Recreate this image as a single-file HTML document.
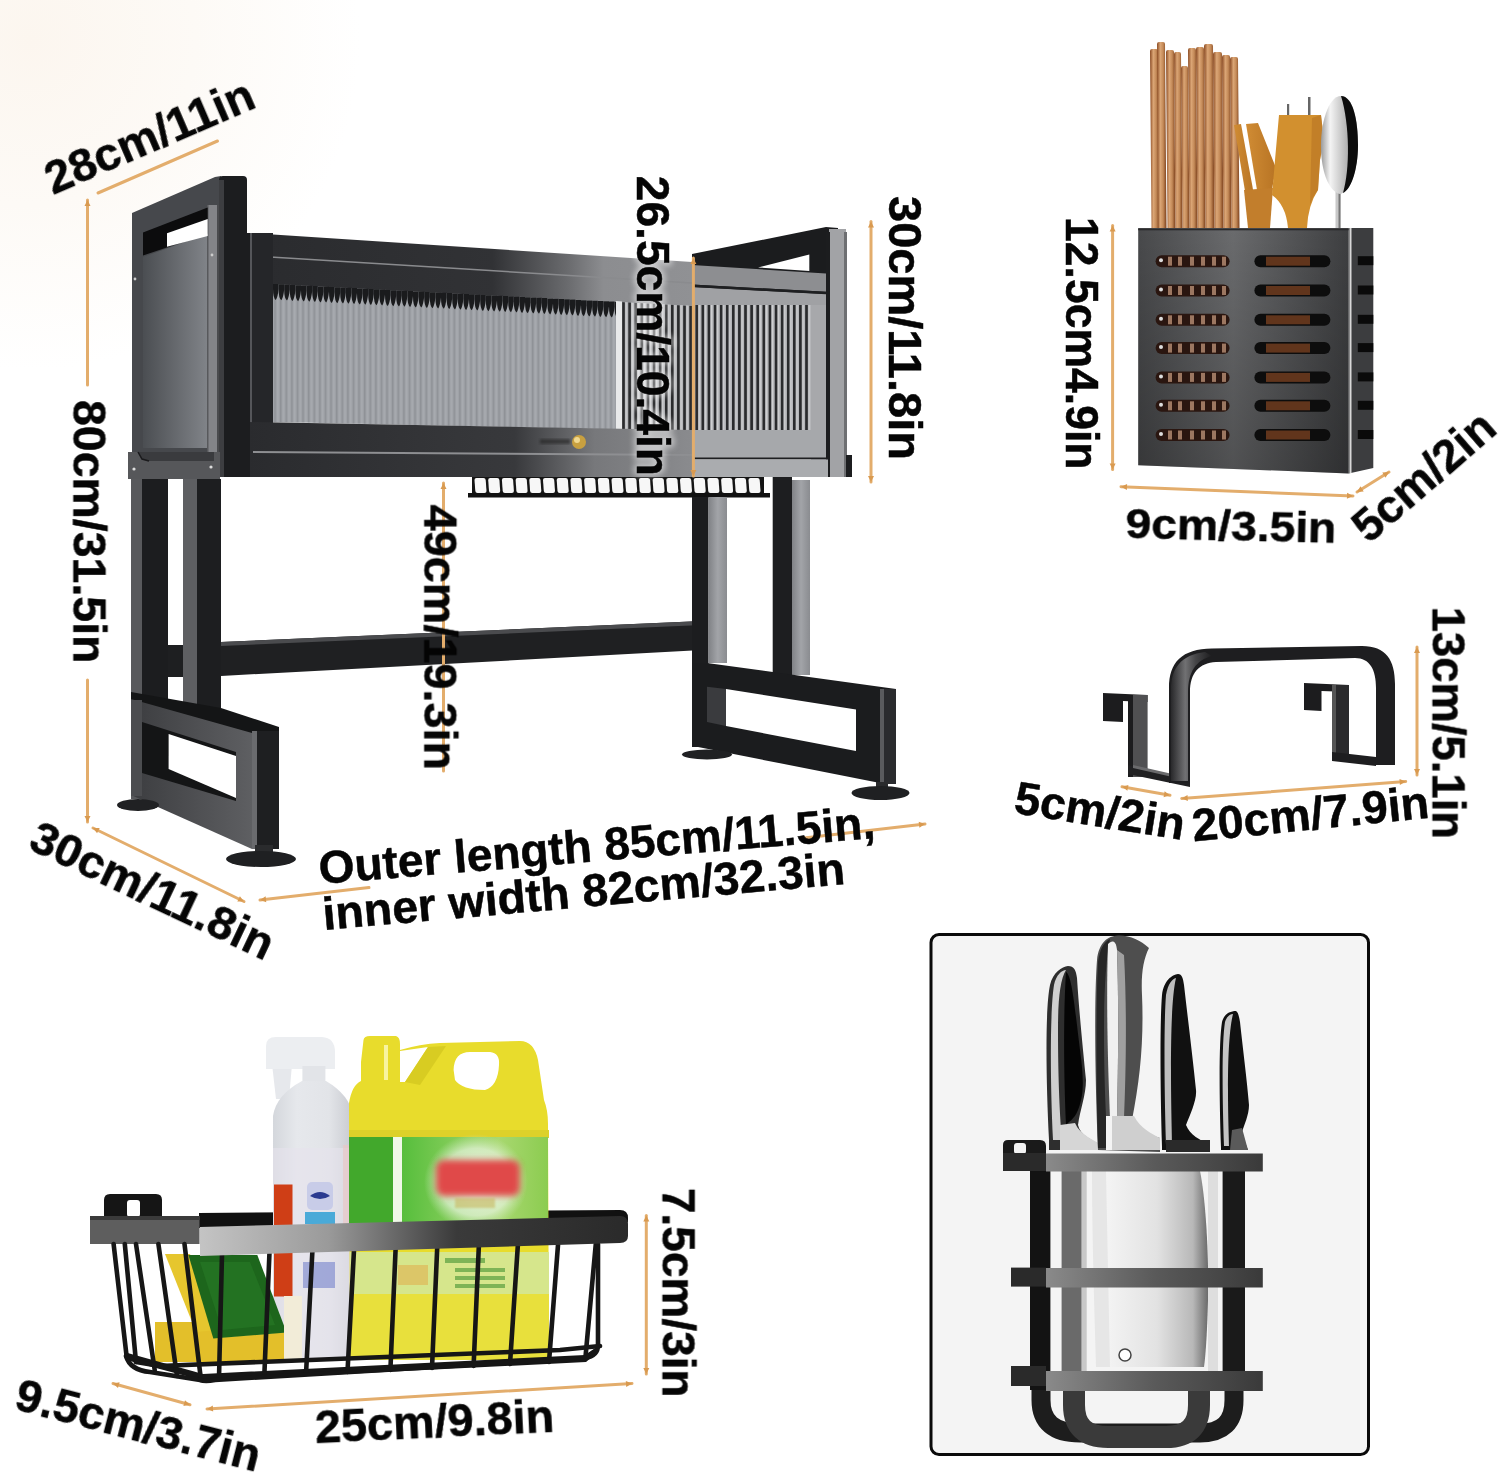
<!DOCTYPE html>
<html><head><meta charset="utf-8"><title>Rack</title>
<style>
html,body{margin:0;padding:0;background:#fff;overflow:hidden}
svg{display:block}
text{font-family:"Liberation Sans",sans-serif;font-weight:bold;fill:#050505;stroke:#050505;stroke-width:0.5}
.ol{stroke:#e3ad6c;stroke-width:3;fill:none;stroke-linecap:round}
.oh{fill:#d99a50}
</style></head>
<body>
<svg width="1500" height="1476" viewBox="0 0 1500 1476">
<defs>
<radialGradient id="bg" cx="30" cy="40" r="330" gradientUnits="userSpaceOnUse">
  <stop offset="0" stop-color="#fcf6ef"/>
  <stop offset="0.5" stop-color="#fdfaf6"/>
  <stop offset="1" stop-color="#ffffff"/>
</radialGradient>
<pattern id="ribs" x="0" y="0" width="5.6" height="10" patternUnits="userSpaceOnUse">
  <rect width="5.6" height="10" fill="#9da0a5"/>
  <rect x="0" width="1.4" height="10" fill="#8f9297"/>
  <rect x="2.4" width="2" height="10" fill="#a7aaaf"/>
</pattern>
<pattern id="teeth" x="0" y="0" width="5.6" height="20" patternUnits="userSpaceOnUse">
  <path d="M0,0 h5.6 v6 q-1.5,9 -3.5,10 q-2,-3 -2.1,-10 z" fill="#1a1b1d"/>
</pattern>
<pattern id="stripes" x="0" y="0" width="6.1" height="10" patternUnits="userSpaceOnUse">
  <rect width="6.1" height="10" fill="#b2b3b6"/>
  <rect x="0" width="2.6" height="10" fill="#2a2b2d"/>
  <rect x="3.4" width="1.2" height="10" fill="#d0d1d3"/>
</pattern>
<linearGradient id="panelIn" x1="0" x2="1" y1="0" y2="0">
  <stop offset="0" stop-color="#4b4e52"/><stop offset="1" stop-color="#808388"/>
</linearGradient>
<linearGradient id="botRail" x1="249" x2="692" y1="0" y2="0" gradientUnits="userSpaceOnUse">
  <stop offset="0" stop-color="#2a2b2e"/><stop offset="0.6" stop-color="#38393c"/><stop offset="0.78" stop-color="#77787b"/><stop offset="1" stop-color="#8a8b8e"/>
</linearGradient>
<linearGradient id="topRail" x1="249" x2="692" y1="0" y2="0" gradientUnits="userSpaceOnUse">
  <stop offset="0" stop-color="#2a2b2e"/><stop offset="0.55" stop-color="#313235"/><stop offset="0.72" stop-color="#6a6b6e"/><stop offset="0.8" stop-color="#8c8d90"/><stop offset="1" stop-color="#909194"/>
</linearGradient>
<linearGradient id="baseFace" x1="0" x2="1" y1="0" y2="0">
  <stop offset="0" stop-color="#3c3d40"/><stop offset="1" stop-color="#5e5f62"/>
</linearGradient>
<linearGradient id="legG" x1="0" x2="1" y1="0" y2="0">
  <stop offset="0" stop-color="#808286"/><stop offset="0.5" stop-color="#a2a4a8"/><stop offset="1" stop-color="#8a8c90"/>
</linearGradient>
<linearGradient id="boxFront" x1="0" x2="1" y1="0" y2="0">
  <stop offset="0" stop-color="#48494b"/><stop offset="0.45" stop-color="#6a6b6d"/><stop offset="1" stop-color="#3e3f41"/>
</linearGradient>
<linearGradient id="boxFrontV" x1="0" x2="0" y1="0" y2="1">
  <stop offset="0" stop-color="#000" stop-opacity="0"/><stop offset="1" stop-color="#000" stop-opacity="0.25"/>
</linearGradient>
<linearGradient id="chop" x1="0" x2="1" y1="0" y2="0">
  <stop offset="0" stop-color="#a0603a"/><stop offset="0.5" stop-color="#dca676"/><stop offset="1" stop-color="#9c5c36"/>
</linearGradient>
<linearGradient id="rimG" x1="200" x2="628" y1="0" y2="0" gradientUnits="userSpaceOnUse">
  <stop offset="0" stop-color="#c4c4c4"/><stop offset="0.3" stop-color="#9a9a9a"/><stop offset="0.6" stop-color="#3a3a3a"/><stop offset="1" stop-color="#2a2a2a"/>
</linearGradient>
<linearGradient id="cleaver" x1="0" x2="1" y1="0" y2="0">
  <stop offset="0" stop-color="#f4f4f4"/><stop offset="0.5" stop-color="#e2e2e2"/><stop offset="0.85" stop-color="#b8b8b8"/><stop offset="1" stop-color="#6a6a6a"/>
</linearGradient>
<linearGradient id="barG" x1="0" x2="1" y1="0" y2="0">
  <stop offset="0" stop-color="#8a8a8a"/><stop offset="0.5" stop-color="#5a5a5a"/><stop offset="1" stop-color="#3a3a3a"/>
</linearGradient>
<linearGradient id="jugG" x1="0" x2="1" y1="0" y2="0">
  <stop offset="0" stop-color="#d8cc20"/><stop offset="0.3" stop-color="#f2e83a"/><stop offset="1" stop-color="#e0d428"/>
</linearGradient>
<linearGradient id="labelG" x1="0" x2="1" y1="0" y2="0">
  <stop offset="0" stop-color="#3aa82a"/><stop offset="0.3" stop-color="#5cc040"/><stop offset="0.75" stop-color="#a8d870"/><stop offset="1" stop-color="#8ccc50"/>
</linearGradient>
<filter id="blur3" x="-20%" y="-20%" width="140%" height="140%"><feGaussianBlur stdDeviation="3"/></filter>
<filter id="blur1" x="-20%" y="-20%" width="140%" height="140%"><feGaussianBlur stdDeviation="1"/></filter>
</defs>

<rect width="1500" height="1476" fill="url(#bg)"/>
<g id="rack">
<!-- right end dark top frame -->
<polygon points="692,254 826,227 838,228 838,300 692,300" fill="#1b1c1e"/>
<polygon points="758,267.4 809.3,254.6 809.3,271" fill="#fff"/>
<!-- right post -->
<rect x="829" y="229" width="17" height="248" fill="#a2a3a6"/>
<rect x="826" y="232" width="4" height="245" fill="#1c1d1f"/>
<rect x="844" y="232" width="3" height="245" fill="#6e6f72"/>
<!-- right section rails -->
<polygon points="692,265 826,273.5 826,291.8 692,284.5" fill="#8d8e91"/>
<polygon points="692,287 826,294 826,312.6 692,305" fill="#a0a1a4"/>
<line x1="692" y1="285.8" x2="826" y2="293" stroke="#1e1f21" stroke-width="2.5"/>
<!-- right glass -->
<rect x="692" y="305" width="119" height="126" fill="url(#stripes)"/>
<rect x="811" y="305" width="15" height="156" fill="#a7a8ab"/>
<rect x="692" y="430" width="134" height="28" fill="#a6a8ab"/>
<line x1="692" y1="458.5" x2="828" y2="458.5" stroke="#1e1f21" stroke-width="2"/>
<rect x="692" y="459.5" width="136" height="17.5" fill="#aaacaf"/>
<rect x="846" y="455" width="6" height="22" fill="#1c1d1f"/>
<!-- left section top rail -->
<polygon points="249,233 692,262 692,306 249,284" fill="url(#topRail)"/>
<line x1="253" y1="256" x2="692" y2="283" stroke="#8a8b8e" stroke-width="1.6"/>
<!-- left glass -->
<polygon points="273,284 692,306 692,431 273,422" fill="url(#ribs)"/>
<g fill="#1a1b1d"><path d="M273.0,284.0 h5.6 v5 q-0.8,8 -2.8,11 q-2.8,-2 -2.8,-11 z"/><path d="M278.6,284.3 h5.6 v5 q-0.8,8 -2.8,11 q-2.8,-2 -2.8,-11 z"/><path d="M284.2,284.6 h5.6 v5 q-0.8,8 -2.8,11 q-2.8,-2 -2.8,-11 z"/><path d="M289.8,284.9 h5.6 v5 q-0.8,8 -2.8,11 q-2.8,-2 -2.8,-11 z"/><path d="M295.4,285.2 h5.6 v5 q-0.8,8 -2.8,11 q-2.8,-2 -2.8,-11 z"/><path d="M301.0,285.5 h5.6 v5 q-0.8,8 -2.8,11 q-2.8,-2 -2.8,-11 z"/><path d="M306.6,285.8 h5.6 v5 q-0.8,8 -2.8,11 q-2.8,-2 -2.8,-11 z"/><path d="M312.2,286.1 h5.6 v5 q-0.8,8 -2.8,11 q-2.8,-2 -2.8,-11 z"/><path d="M317.8,286.4 h5.6 v5 q-0.8,8 -2.8,11 q-2.8,-2 -2.8,-11 z"/><path d="M323.4,286.6 h5.6 v5 q-0.8,8 -2.8,11 q-2.8,-2 -2.8,-11 z"/><path d="M329.0,286.9 h5.6 v5 q-0.8,8 -2.8,11 q-2.8,-2 -2.8,-11 z"/><path d="M334.6,287.2 h5.6 v5 q-0.8,8 -2.8,11 q-2.8,-2 -2.8,-11 z"/><path d="M340.2,287.5 h5.6 v5 q-0.8,8 -2.8,11 q-2.8,-2 -2.8,-11 z"/><path d="M345.8,287.8 h5.6 v5 q-0.8,8 -2.8,11 q-2.8,-2 -2.8,-11 z"/><path d="M351.4,288.1 h5.6 v5 q-0.8,8 -2.8,11 q-2.8,-2 -2.8,-11 z"/><path d="M357.0,288.4 h5.6 v5 q-0.8,8 -2.8,11 q-2.8,-2 -2.8,-11 z"/><path d="M362.6,288.7 h5.6 v5 q-0.8,8 -2.8,11 q-2.8,-2 -2.8,-11 z"/><path d="M368.2,289.0 h5.6 v5 q-0.8,8 -2.8,11 q-2.8,-2 -2.8,-11 z"/><path d="M373.8,289.3 h5.6 v5 q-0.8,8 -2.8,11 q-2.8,-2 -2.8,-11 z"/><path d="M379.4,289.6 h5.6 v5 q-0.8,8 -2.8,11 q-2.8,-2 -2.8,-11 z"/><path d="M385.0,289.9 h5.6 v5 q-0.8,8 -2.8,11 q-2.8,-2 -2.8,-11 z"/><path d="M390.6,290.2 h5.6 v5 q-0.8,8 -2.8,11 q-2.8,-2 -2.8,-11 z"/><path d="M396.2,290.5 h5.6 v5 q-0.8,8 -2.8,11 q-2.8,-2 -2.8,-11 z"/><path d="M401.8,290.8 h5.6 v5 q-0.8,8 -2.8,11 q-2.8,-2 -2.8,-11 z"/><path d="M407.4,291.1 h5.6 v5 q-0.8,8 -2.8,11 q-2.8,-2 -2.8,-11 z"/><path d="M413.0,291.4 h5.6 v5 q-0.8,8 -2.8,11 q-2.8,-2 -2.8,-11 z"/><path d="M418.6,291.6 h5.6 v5 q-0.8,8 -2.8,11 q-2.8,-2 -2.8,-11 z"/><path d="M424.2,291.9 h5.6 v5 q-0.8,8 -2.8,11 q-2.8,-2 -2.8,-11 z"/><path d="M429.8,292.2 h5.6 v5 q-0.8,8 -2.8,11 q-2.8,-2 -2.8,-11 z"/><path d="M435.4,292.5 h5.6 v5 q-0.8,8 -2.8,11 q-2.8,-2 -2.8,-11 z"/><path d="M441.0,292.8 h5.6 v5 q-0.8,8 -2.8,11 q-2.8,-2 -2.8,-11 z"/><path d="M446.6,293.1 h5.6 v5 q-0.8,8 -2.8,11 q-2.8,-2 -2.8,-11 z"/><path d="M452.2,293.4 h5.6 v5 q-0.8,8 -2.8,11 q-2.8,-2 -2.8,-11 z"/><path d="M457.8,293.7 h5.6 v5 q-0.8,8 -2.8,11 q-2.8,-2 -2.8,-11 z"/><path d="M463.4,294.0 h5.6 v5 q-0.8,8 -2.8,11 q-2.8,-2 -2.8,-11 z"/><path d="M469.0,294.3 h5.6 v5 q-0.8,8 -2.8,11 q-2.8,-2 -2.8,-11 z"/><path d="M474.6,294.6 h5.6 v5 q-0.8,8 -2.8,11 q-2.8,-2 -2.8,-11 z"/><path d="M480.2,294.9 h5.6 v5 q-0.8,8 -2.8,11 q-2.8,-2 -2.8,-11 z"/><path d="M485.8,295.2 h5.6 v5 q-0.8,8 -2.8,11 q-2.8,-2 -2.8,-11 z"/><path d="M491.4,295.5 h5.6 v5 q-0.8,8 -2.8,11 q-2.8,-2 -2.8,-11 z"/><path d="M497.0,295.8 h5.6 v5 q-0.8,8 -2.8,11 q-2.8,-2 -2.8,-11 z"/><path d="M502.6,296.1 h5.6 v5 q-0.8,8 -2.8,11 q-2.8,-2 -2.8,-11 z"/><path d="M508.2,296.3 h5.6 v5 q-0.8,8 -2.8,11 q-2.8,-2 -2.8,-11 z"/><path d="M513.8,296.6 h5.6 v5 q-0.8,8 -2.8,11 q-2.8,-2 -2.8,-11 z"/><path d="M519.4,296.9 h5.6 v5 q-0.8,8 -2.8,11 q-2.8,-2 -2.8,-11 z"/><path d="M525.0,297.2 h5.6 v5 q-0.8,8 -2.8,11 q-2.8,-2 -2.8,-11 z"/><path d="M530.6,297.5 h5.6 v5 q-0.8,8 -2.8,11 q-2.8,-2 -2.8,-11 z"/><path d="M536.2,297.8 h5.6 v5 q-0.8,8 -2.8,11 q-2.8,-2 -2.8,-11 z"/><path d="M541.8,298.1 h5.6 v5 q-0.8,8 -2.8,11 q-2.8,-2 -2.8,-11 z"/><path d="M547.4,298.4 h5.6 v5 q-0.8,8 -2.8,11 q-2.8,-2 -2.8,-11 z"/><path d="M553.0,298.7 h5.6 v5 q-0.8,8 -2.8,11 q-2.8,-2 -2.8,-11 z"/><path d="M558.6,299.0 h5.6 v5 q-0.8,8 -2.8,11 q-2.8,-2 -2.8,-11 z"/><path d="M564.2,299.3 h5.6 v5 q-0.8,8 -2.8,11 q-2.8,-2 -2.8,-11 z"/><path d="M569.8,299.6 h5.6 v5 q-0.8,8 -2.8,11 q-2.8,-2 -2.8,-11 z"/><path d="M575.4,299.9 h5.6 v5 q-0.8,8 -2.8,11 q-2.8,-2 -2.8,-11 z"/><path d="M581.0,300.2 h5.6 v5 q-0.8,8 -2.8,11 q-2.8,-2 -2.8,-11 z"/><path d="M586.6,300.5 h5.6 v5 q-0.8,8 -2.8,11 q-2.8,-2 -2.8,-11 z"/><path d="M592.2,300.8 h5.6 v5 q-0.8,8 -2.8,11 q-2.8,-2 -2.8,-11 z"/><path d="M597.8,301.1 h5.6 v5 q-0.8,8 -2.8,11 q-2.8,-2 -2.8,-11 z"/><path d="M603.4,301.3 h5.6 v5 q-0.8,8 -2.8,11 q-2.8,-2 -2.8,-11 z"/><path d="M609.0,301.6 h5.6 v5 q-0.8,8 -2.8,11 q-2.8,-2 -2.8,-11 z"/><path d="M614.6,301.9 h5.6 v5 q-0.8,8 -2.8,11 q-2.8,-2 -2.8,-11 z"/></g>
<polygon points="620,302 692,306 692,431 620,429" fill="url(#stripes)"/>
<polygon points="616,301 622,301.5 622,429 616,429" fill="#e8e9ea"/>
<!-- left vertical frame -->
<rect x="249" y="233" width="24" height="244" fill="#252629"/>
<rect x="249" y="233" width="3" height="244" fill="#55565a"/>
<!-- bottom rail -->
<polygon points="249,422 692,430 692,477 249,477" fill="url(#botRail)"/>
<line x1="253" y1="452" x2="692" y2="455" stroke="#8e8f92" stroke-width="2"/>
<!-- knob -->
<rect x="540" y="439" width="30" height="5" fill="#222" opacity="0.6" filter="url(#blur1)"/>
<circle cx="579" cy="442" r="7" fill="#c8a040"/>
<circle cx="577" cy="440" r="3" fill="#f0d890"/>

<!-- left end panel -->
<polygon points="132,213 215,177 221,176 221,452 132,452" fill="#46484c"/>
<polygon points="143,257 207,234 207,448 143,448" fill="url(#panelIn)"/>
<rect x="207" y="205" width="13" height="247" fill="#838488"/><rect x="207" y="205" width="1.5" height="247" fill="#58595c"/><rect x="217" y="205" width="3" height="247" fill="#4a4b4e"/>
<polygon points="143,232.5 207.7,207.4 207.7,233.8 143,255.5" fill="#0c0c0d"/>
<polygon points="167,233.2 207.7,219 207.7,235.9 167,246.7" fill="#fff"/>
<!-- front post -->
<path d="M219,180 q0,-4 4,-4 h20 q4,0 4,4 v53 h3 v244 h-31 z" fill="#1c1d1f"/>
<rect x="219" y="180" width="5" height="297" fill="#3d3e41"/>
<!-- bracket -->
<rect x="128" y="452" width="92" height="27" fill="#56575a"/><path d="M138,452 L142,459 L149,461 L214,461 L214,452 Z" fill="#3a3b3e"/><path d="M138,452 L142,459 L149,461" fill="none" stroke="#1a1a1c" stroke-width="1.5"/>
<circle cx="134" cy="469" r="1.6" fill="#ddd"/>
<circle cx="211" cy="467" r="1.6" fill="#ddd"/>
<circle cx="135" cy="279" r="1.4" fill="#ccc"/>
<circle cx="212" cy="255" r="1.4" fill="#ccc"/>

<!-- tray under shelf -->
<g>
<rect x="472" y="477" width="292" height="17" fill="#141414"/>
<g fill="#f7f7f7"><path d="M476.5,478 h7 q2,0 2.2,2 l0.8,11 q0,2 -2,2 h-7 q-2,0 -2.2,-2 l-0.8,-11 q0,-2 2,-2 z"/><path d="M490.2,478 h7 q2,0 2.2,2 l0.8,11 q0,2 -2,2 h-7 q-2,0 -2.2,-2 l-0.8,-11 q0,-2 2,-2 z"/><path d="M503.9,478 h7 q2,0 2.2,2 l0.8,11 q0,2 -2,2 h-7 q-2,0 -2.2,-2 l-0.8,-11 q0,-2 2,-2 z"/><path d="M517.6,478 h7 q2,0 2.2,2 l0.8,11 q0,2 -2,2 h-7 q-2,0 -2.2,-2 l-0.8,-11 q0,-2 2,-2 z"/><path d="M531.3,478 h7 q2,0 2.2,2 l0.8,11 q0,2 -2,2 h-7 q-2,0 -2.2,-2 l-0.8,-11 q0,-2 2,-2 z"/><path d="M545.0,478 h7 q2,0 2.2,2 l0.8,11 q0,2 -2,2 h-7 q-2,0 -2.2,-2 l-0.8,-11 q0,-2 2,-2 z"/><path d="M558.7,478 h7 q2,0 2.2,2 l0.8,11 q0,2 -2,2 h-7 q-2,0 -2.2,-2 l-0.8,-11 q0,-2 2,-2 z"/><path d="M572.4,478 h7 q2,0 2.2,2 l0.8,11 q0,2 -2,2 h-7 q-2,0 -2.2,-2 l-0.8,-11 q0,-2 2,-2 z"/><path d="M586.1,478 h7 q2,0 2.2,2 l0.8,11 q0,2 -2,2 h-7 q-2,0 -2.2,-2 l-0.8,-11 q0,-2 2,-2 z"/><path d="M599.8,478 h7 q2,0 2.2,2 l0.8,11 q0,2 -2,2 h-7 q-2,0 -2.2,-2 l-0.8,-11 q0,-2 2,-2 z"/><path d="M613.5,478 h7 q2,0 2.2,2 l0.8,11 q0,2 -2,2 h-7 q-2,0 -2.2,-2 l-0.8,-11 q0,-2 2,-2 z"/><path d="M627.2,478 h7 q2,0 2.2,2 l0.8,11 q0,2 -2,2 h-7 q-2,0 -2.2,-2 l-0.8,-11 q0,-2 2,-2 z"/><path d="M640.9,478 h7 q2,0 2.2,2 l0.8,11 q0,2 -2,2 h-7 q-2,0 -2.2,-2 l-0.8,-11 q0,-2 2,-2 z"/><path d="M654.6,478 h7 q2,0 2.2,2 l0.8,11 q0,2 -2,2 h-7 q-2,0 -2.2,-2 l-0.8,-11 q0,-2 2,-2 z"/><path d="M668.3,478 h7 q2,0 2.2,2 l0.8,11 q0,2 -2,2 h-7 q-2,0 -2.2,-2 l-0.8,-11 q0,-2 2,-2 z"/><path d="M682.0,478 h7 q2,0 2.2,2 l0.8,11 q0,2 -2,2 h-7 q-2,0 -2.2,-2 l-0.8,-11 q0,-2 2,-2 z"/><path d="M695.7,478 h7 q2,0 2.2,2 l0.8,11 q0,2 -2,2 h-7 q-2,0 -2.2,-2 l-0.8,-11 q0,-2 2,-2 z"/><path d="M709.4,478 h7 q2,0 2.2,2 l0.8,11 q0,2 -2,2 h-7 q-2,0 -2.2,-2 l-0.8,-11 q0,-2 2,-2 z"/><path d="M723.1,478 h7 q2,0 2.2,2 l0.8,11 q0,2 -2,2 h-7 q-2,0 -2.2,-2 l-0.8,-11 q0,-2 2,-2 z"/><path d="M736.8,478 h7 q2,0 2.2,2 l0.8,11 q0,2 -2,2 h-7 q-2,0 -2.2,-2 l-0.8,-11 q0,-2 2,-2 z"/><path d="M750.5,478 h7 q2,0 2.2,2 l0.8,11 q0,2 -2,2 h-7 q-2,0 -2.2,-2 l-0.8,-11 q0,-2 2,-2 z"/></g>
<rect x="468" y="493" width="302" height="4.5" fill="#111"/>
</g>

<!-- left legs -->
<rect x="168" y="479" width="15" height="230" fill="#fff"/>
<rect x="168" y="645" width="15" height="32" fill="#1e1f21"/>
<rect x="131" y="479" width="37" height="320" fill="#1c1d1f"/>
<rect x="131" y="479" width="11" height="320" fill="#58595c"/>
<rect x="183" y="479" width="38" height="236" fill="#1d1e20"/>
<rect x="183" y="479" width="14" height="232" fill="#5e5f62"/>
<!-- crossbar -->
<polygon points="221,642 702,621 702,650 221,676" fill="#1f2022"/>
<polygon points="221,642 702,621 702,625 221,646" fill="#4a4b4e"/>
<!-- left base -->
<polygon points="131,692 221,708 279,727 279,741 131,706" fill="#141516"/>
<polygon points="131,699 252,733 252,849 131,795" fill="url(#baseFace)"/>
<polygon points="142,722 236,752 236,801 142,773" fill="#141516"/>
<polygon points="168.6,734 236,756 236,798 168.6,769" fill="#fff"/>
<rect x="131" y="700" width="11" height="96" fill="#4c4d50"/>
<rect x="252" y="731" width="27" height="118" fill="#1e1f21"/>
<rect x="252" y="731" width="5" height="118" fill="#6a6b6e"/>
<!-- feet left -->
<ellipse cx="138" cy="805" rx="21" ry="6" fill="#202123"/>
<rect x="255" y="845" width="18" height="10" fill="#2a2b2d"/>
<ellipse cx="261" cy="859" rx="35" ry="8" fill="#1f2022"/>

<!-- right legs -->
<rect x="692" y="497" width="16.5" height="250" fill="#1c1d1f"/>
<rect x="708.5" y="497" width="18.5" height="166" fill="url(#legG)"/>
<rect x="772.7" y="477" width="19.3" height="198" fill="#1d1e20"/>
<rect x="792" y="480" width="18" height="195" fill="url(#legG)"/>
<!-- right base -->
<polygon points="707,663 896,689 896,784 880,783 693,746 693,663" fill="#1b1c1e"/>
<polygon points="707,686.7 726,689 726,726 707,722" fill="#3a3b3e"/>
<polygon points="726,689 856,709.6 856,751 726,726" fill="#fff"/>
<rect x="880" y="689" width="16" height="95" fill="#2a2b2e"/>
<rect x="880" y="689" width="4" height="95" fill="#5a5b5e"/>
<!-- feet right -->
<ellipse cx="707" cy="754.5" rx="25" ry="5" fill="#202123"/>
<rect x="876" y="782" width="12" height="8" fill="#2a2b2d"/>
<ellipse cx="880.5" cy="793" rx="29" ry="7" fill="#1f2022"/>
</g>

<g id="utensil">
<defs>
<linearGradient id="chop2" x1="0" x2="1" y1="0" y2="0">
  <stop offset="0" stop-color="#8a4a22"/><stop offset="0.35" stop-color="#dba676"/><stop offset="0.65" stop-color="#c48a58"/><stop offset="1" stop-color="#7a3e1a"/>
</linearGradient>
<linearGradient id="spoonG" x1="0" x2="1" y1="0" y2="0">
  <stop offset="0" stop-color="#9a9a9a"/><stop offset="0.25" stop-color="#f4f4f4"/><stop offset="0.5" stop-color="#d0d0d0"/><stop offset="1" stop-color="#888"/>
</linearGradient>
<linearGradient id="forkG" x1="0" x2="1" y1="0" y2="0">
  <stop offset="0" stop-color="#d08c34"/><stop offset="1" stop-color="#b87424"/>
</linearGradient>
</defs>
<path d="M1150,51 q0,-2 2,-2 h4 q2,0 2,2 L1159.5,228 H1151.5 Z" fill="url(#chop2)"/>
<path d="M1157,44 q0,-2 2,-2 h4 q2,0 2,2 L1166.5,228 H1158.5 Z" fill="url(#chop2)"/>
<path d="M1166,52 q0,-2 2,-2 h4 q2,0 2,2 L1175.5,228 H1167.5 Z" fill="url(#chop2)"/>
<path d="M1174,54 q0,-2 2,-2 h3 q2,0 2,2 L1182.5,228 H1175.5 Z" fill="url(#chop2)"/>
<path d="M1181,68 q0,-2 2,-2 h3 q2,0 2,2 L1189.5,228 H1182.5 Z" fill="url(#chop2)"/>
<path d="M1188,50 q0,-2 2,-2 h4 q2,0 2,2 L1197.5,228 H1189.5 Z" fill="url(#chop2)"/>
<path d="M1196,49 q0,-2 2,-2 h4 q2,0 2,2 L1205.5,228 H1197.5 Z" fill="url(#chop2)"/>
<path d="M1204,46 q0,-2 2,-2 h5 q2,0 2,2 L1214.5,228 H1205.5 Z" fill="url(#chop2)"/>
<path d="M1213,54 q0,-2 2,-2 h5 q2,0 2,2 L1223.5,228 H1214.5 Z" fill="url(#chop2)"/>
<path d="M1222,57 q0,-2 2,-2 h4 q2,0 2,2 L1231.5,228 H1223.5 Z" fill="url(#chop2)"/>
<path d="M1230,59 q0,-2 2,-2 h4 q2,0 2,2 L1239.5,228 H1231.5 Z" fill="url(#chop2)"/>
<rect x="1287" y="104" width="2.2" height="14" fill="#666"/><rect x="1308" y="97" width="2.5" height="21" fill="#666"/>
<polygon points="1234,125 1241,124 1254,195 1246,197" fill="url(#forkG)"/>
<polygon points="1246,124 1258,123 1276,168 1270,200 1258,196" fill="url(#forkG)"/>
<polygon points="1244,190 1273,188 1270,228 1248,228" fill="#c27e2c"/>
<path d="M1279,115 L1321,115 Q1325,140 1320,160 L1318,190 Q1308,205 1307,228 L1288,228 Q1286,205 1272,195 L1275,160 Z" fill="#d2902f"/>
<path d="M1312,118 L1321,115 Q1325,140 1320,160 L1318,190 Q1312,198 1310,205 Z" fill="#b87424" opacity="0.6"/>
<rect x="1335.5" y="188" width="5" height="40" fill="#c8c8c8"/><rect x="1338.5" y="188" width="2" height="40" fill="#777"/>
<path d="M1341,96 C1328,96 1320,125 1321,150 C1322,175 1330,192 1340,194 C1350,192 1358,170 1358,145 C1358,120 1353,96 1341,96 Z" fill="url(#spoonG)"/>
<path d="M1341,96 C1353,96 1358,120 1358,145 C1358,170 1351,190 1343,193 C1350,170 1350,125 1341,96 Z" fill="#0c0c0c"/>
<polygon points="1348.6,228 1373.3,228 1373.3,468 1348.6,473.4" fill="#3c3d3f"/>
<rect x="1349.5" y="228" width="2" height="245" fill="#d8d8d8"/>
<polygon points="1138.2,228.3 1348.6,228.3 1348.6,473.4 1138.2,465.2" fill="url(#boxFront)"/>
<polygon points="1138.2,228.3 1348.6,228.3 1348.6,473.4 1138.2,465.2" fill="url(#boxFrontV)"/>
<rect x="1138.2" y="228.3" width="210.4" height="2" fill="#2a2a2c"/>
<rect x="1155.6" y="255.2" width="74" height="12" rx="6" fill="#2a1610"/>
<rect x="1168" y="256.7" width="4" height="9" fill="#b08870" opacity="0.85"/>
<rect x="1178" y="256.7" width="4" height="9" fill="#b08870" opacity="0.85"/>
<rect x="1190" y="256.7" width="4" height="9" fill="#b08870" opacity="0.85"/>
<rect x="1201" y="256.7" width="4" height="9" fill="#b08870" opacity="0.85"/>
<rect x="1212" y="256.7" width="4" height="9" fill="#b08870" opacity="0.85"/>
<rect x="1222" y="256.7" width="4" height="9" fill="#b08870" opacity="0.85"/>
<circle cx="1161" cy="260.2" r="2" fill="#ddd"/>
<rect x="1254.4" y="255.2" width="76" height="12" rx="6" fill="#0d0d0d"/>
<rect x="1266" y="256.7" width="44" height="9" fill="#6a3a1e" opacity="0.9"/>
<rect x="1357.8" y="256.2" width="15.5" height="9" fill="#0a0a0a"/>
<rect x="1155.6" y="284.5" width="74" height="12" rx="6" fill="#2a1610"/>
<rect x="1168" y="286.0" width="4" height="9" fill="#b08870" opacity="0.85"/>
<rect x="1178" y="286.0" width="4" height="9" fill="#b08870" opacity="0.85"/>
<rect x="1190" y="286.0" width="4" height="9" fill="#b08870" opacity="0.85"/>
<rect x="1201" y="286.0" width="4" height="9" fill="#b08870" opacity="0.85"/>
<rect x="1212" y="286.0" width="4" height="9" fill="#b08870" opacity="0.85"/>
<rect x="1222" y="286.0" width="4" height="9" fill="#b08870" opacity="0.85"/>
<circle cx="1161" cy="289.5" r="2" fill="#ddd"/>
<rect x="1254.4" y="284.5" width="76" height="12" rx="6" fill="#0d0d0d"/>
<rect x="1266" y="286.0" width="44" height="9" fill="#6a3a1e" opacity="0.9"/>
<rect x="1357.8" y="285.5" width="15.5" height="9" fill="#0a0a0a"/>
<rect x="1155.6" y="313.8" width="74" height="12" rx="6" fill="#2a1610"/>
<rect x="1168" y="315.3" width="4" height="9" fill="#b08870" opacity="0.85"/>
<rect x="1178" y="315.3" width="4" height="9" fill="#b08870" opacity="0.85"/>
<rect x="1190" y="315.3" width="4" height="9" fill="#b08870" opacity="0.85"/>
<rect x="1201" y="315.3" width="4" height="9" fill="#b08870" opacity="0.85"/>
<rect x="1212" y="315.3" width="4" height="9" fill="#b08870" opacity="0.85"/>
<rect x="1222" y="315.3" width="4" height="9" fill="#b08870" opacity="0.85"/>
<circle cx="1161" cy="318.8" r="2" fill="#ddd"/>
<rect x="1254.4" y="313.8" width="76" height="12" rx="6" fill="#0d0d0d"/>
<rect x="1266" y="315.3" width="44" height="9" fill="#6a3a1e" opacity="0.9"/>
<rect x="1357.8" y="314.8" width="15.5" height="9" fill="#0a0a0a"/>
<rect x="1155.6" y="342.1" width="74" height="12" rx="6" fill="#2a1610"/>
<rect x="1168" y="343.6" width="4" height="9" fill="#b08870" opacity="0.85"/>
<rect x="1178" y="343.6" width="4" height="9" fill="#b08870" opacity="0.85"/>
<rect x="1190" y="343.6" width="4" height="9" fill="#b08870" opacity="0.85"/>
<rect x="1201" y="343.6" width="4" height="9" fill="#b08870" opacity="0.85"/>
<rect x="1212" y="343.6" width="4" height="9" fill="#b08870" opacity="0.85"/>
<rect x="1222" y="343.6" width="4" height="9" fill="#b08870" opacity="0.85"/>
<circle cx="1161" cy="347.1" r="2" fill="#ddd"/>
<rect x="1254.4" y="342.1" width="76" height="12" rx="6" fill="#0d0d0d"/>
<rect x="1266" y="343.6" width="44" height="9" fill="#6a3a1e" opacity="0.9"/>
<rect x="1357.8" y="343.1" width="15.5" height="9" fill="#0a0a0a"/>
<rect x="1155.6" y="371.4" width="74" height="12" rx="6" fill="#2a1610"/>
<rect x="1168" y="372.9" width="4" height="9" fill="#b08870" opacity="0.85"/>
<rect x="1178" y="372.9" width="4" height="9" fill="#b08870" opacity="0.85"/>
<rect x="1190" y="372.9" width="4" height="9" fill="#b08870" opacity="0.85"/>
<rect x="1201" y="372.9" width="4" height="9" fill="#b08870" opacity="0.85"/>
<rect x="1212" y="372.9" width="4" height="9" fill="#b08870" opacity="0.85"/>
<rect x="1222" y="372.9" width="4" height="9" fill="#b08870" opacity="0.85"/>
<circle cx="1161" cy="376.4" r="2" fill="#ddd"/>
<rect x="1254.4" y="371.4" width="76" height="12" rx="6" fill="#0d0d0d"/>
<rect x="1266" y="372.9" width="44" height="9" fill="#6a3a1e" opacity="0.9"/>
<rect x="1357.8" y="372.4" width="15.5" height="9" fill="#0a0a0a"/>
<rect x="1155.6" y="399.8" width="74" height="12" rx="6" fill="#2a1610"/>
<rect x="1168" y="401.3" width="4" height="9" fill="#b08870" opacity="0.85"/>
<rect x="1178" y="401.3" width="4" height="9" fill="#b08870" opacity="0.85"/>
<rect x="1190" y="401.3" width="4" height="9" fill="#b08870" opacity="0.85"/>
<rect x="1201" y="401.3" width="4" height="9" fill="#b08870" opacity="0.85"/>
<rect x="1212" y="401.3" width="4" height="9" fill="#b08870" opacity="0.85"/>
<rect x="1222" y="401.3" width="4" height="9" fill="#b08870" opacity="0.85"/>
<circle cx="1161" cy="404.8" r="2" fill="#ddd"/>
<rect x="1254.4" y="399.8" width="76" height="12" rx="6" fill="#0d0d0d"/>
<rect x="1266" y="401.3" width="44" height="9" fill="#6a3a1e" opacity="0.9"/>
<rect x="1357.8" y="400.8" width="15.5" height="9" fill="#0a0a0a"/>
<rect x="1155.6" y="429.0" width="74" height="12" rx="6" fill="#2a1610"/>
<rect x="1168" y="430.5" width="4" height="9" fill="#b08870" opacity="0.85"/>
<rect x="1178" y="430.5" width="4" height="9" fill="#b08870" opacity="0.85"/>
<rect x="1190" y="430.5" width="4" height="9" fill="#b08870" opacity="0.85"/>
<rect x="1201" y="430.5" width="4" height="9" fill="#b08870" opacity="0.85"/>
<rect x="1212" y="430.5" width="4" height="9" fill="#b08870" opacity="0.85"/>
<rect x="1222" y="430.5" width="4" height="9" fill="#b08870" opacity="0.85"/>
<circle cx="1161" cy="434.0" r="2" fill="#ddd"/>
<rect x="1254.4" y="429.0" width="76" height="12" rx="6" fill="#0d0d0d"/>
<rect x="1266" y="430.5" width="44" height="9" fill="#6a3a1e" opacity="0.9"/>
<rect x="1357.8" y="430.0" width="15.5" height="9" fill="#0a0a0a"/>
</g>

<g id="hook">
<defs>
<linearGradient id="hookL" x1="0" x2="1" y1="0" y2="0">
  <stop offset="0" stop-color="#2a2a2c"/><stop offset="0.35" stop-color="#7a7a7c"/><stop offset="0.6" stop-color="#4a4a4c"/><stop offset="1" stop-color="#1e1e20"/>
</linearGradient>
</defs>
<!-- left hook -->
<polygon points="1103,693 1147.6,695 1147.6,702 1123,701 1123,722 1103,721" fill="#1c1c1e"/>
<rect x="1128" y="695" width="19.6" height="82" fill="#505052"/>
<rect x="1128" y="695" width="5" height="82" fill="#1c1c1e"/>
<polygon points="1128,765 1190,779 1190,787 1128,774" fill="#202022"/>
<polygon points="1133,765 1190,778 1190,781 1133,768" fill="#6a6a6c"/>
<!-- right hook -->
<polygon points="1304,683 1349,685 1349,692 1321.5,691 1321.5,711 1304,710" fill="#1c1c1e"/>
<rect x="1332" y="685" width="17" height="75" fill="#2a2a2c"/>
<rect x="1332" y="685" width="4" height="75" fill="#555"/>
<polygon points="1332,752 1376,757 1376,766 1332,761" fill="#1e1e20"/>
<!-- arch -->
<path d="M1169,783 L1169,688 C1169,662 1182,649 1212,648.5 L1362,646 C1386,646 1395,660 1395,684 L1395,765 L1376,765 L1376,688 C1376,670 1370,658 1355,658 L1216,662 C1199,663 1190,673 1190,692 L1190,783 Z" fill="#1e1e20"/>
<path d="M1171,781 L1171,690 C1171,668 1181,655 1205,652 L1212,656 C1196,660 1188,672 1188,692 L1188,781 Z" fill="url(#hookL)" opacity="0.9"/>
</g>

<g id="knife">
<rect x="931" y="934.5" width="437.5" height="520" rx="8" fill="#f4f4f4" stroke="#0a0a0a" stroke-width="3"/>
<!-- knives -->
<!-- knife 1 -->
<path d="M1049,1140 C1046,1080 1045,1010 1050,985 C1053,972 1062,967 1068,966 C1074,966 1076,970 1077,978 C1079,1010 1083,1050 1086,1080 C1086,1095 1080,1110 1078,1125 C1080,1135 1092,1140 1100,1145 L1100,1150 L1049,1150 Z" fill="#2e2e2e"/>
<path d="M1053,1140 C1050,1080 1050,1010 1054,985 C1056,975 1062,970 1066,970 C1060,980 1058,1000 1058,1030 C1058,1080 1060,1120 1062,1140 Z" fill="#cfcfcf"/>
<path d="M1066,972 C1072,975 1075,1010 1080,1050 C1084,1080 1084,1095 1078,1110 C1074,1120 1068,1122 1066,1125 C1064,1080 1063,1020 1066,972 Z" fill="#050505"/>
<path d="M1060,1125 L1075,1123 C1080,1135 1094,1140 1100,1144 L1100,1150 L1060,1150 Z" fill="#d6d6d6"/>
<!-- knife 2 -->
<path d="M1098,1150 C1095,1080 1094,1000 1097,960 C1099,942 1108,936 1118,935.5 C1130,935 1140,940 1149,948 C1143,960 1141,975 1142,995 C1144,1040 1140,1080 1132,1120 C1140,1130 1150,1135 1160,1138 L1160,1152 Z" fill="#4e4e4e"/>
<path d="M1098,1148 C1096,1080 1096,1000 1098,962 C1100,948 1104,942 1110,939 C1106,960 1104,990 1104,1030 C1104,1080 1106,1120 1108,1148 Z" fill="#262626"/>
<path d="M1108,944 C1112,940 1116,940 1117,950 C1119,1010 1118,1070 1117,1118 L1110,1118 C1108,1070 1106,1000 1108,944 Z" fill="#f0f0f0"/>
<path d="M1117,950 C1119,1010 1118,1070 1117,1118 L1124,1118 C1126,1070 1127,1010 1124,955 Z" fill="#a0a0a0"/>
<path d="M1106,1116 L1134,1116 C1140,1128 1152,1134 1160,1138 L1160,1150 L1106,1150 Z" fill="#cfcfcf"/>
<path d="M1106,1116 L1112,1116 L1112,1150 L1106,1150 Z" fill="#f4f4f4"/>
<!-- knife 3 -->
<path d="M1162,1147 C1160,1080 1160,1020 1162,995 C1164,980 1172,975 1178,974 C1182,974 1183,978 1184,985 C1188,1020 1193,1060 1196,1090 C1197,1100 1190,1115 1186,1125 C1190,1135 1200,1140 1210,1145 L1210,1150 L1162,1150 Z" fill="#111"/>
<path d="M1166,1145 C1164,1080 1164,1020 1166,995 C1168,984 1172,979 1176,978 C1172,995 1171,1030 1171,1070 C1171,1110 1172,1130 1172,1145 Z" fill="#bdbdbd"/>
<path d="M1166,1140 L1210,1140 L1210,1152 L1166,1152 Z" fill="#2a2a2a"/>
<!-- knife 4 -->
<path d="M1221,1148 C1219,1090 1219,1040 1222,1022 C1224,1014 1230,1011 1236,1011 C1238,1012 1239,1016 1240,1022 C1243,1050 1247,1080 1249,1105 C1249,1115 1244,1125 1242,1132 C1244,1140 1246,1145 1248,1150 L1221,1150 Z" fill="#111"/>
<path d="M1224,1146 C1222,1090 1222,1040 1225,1022 C1227,1016 1230,1014 1233,1014 C1229,1030 1228,1060 1228,1090 C1228,1120 1229,1135 1229,1146 Z" fill="#c4c4c4"/>
<path d="M1232,1130 L1242,1128 L1248,1150 L1230,1150 Z" fill="#5a5a5a"/>

<!-- holder back loop -->
<path d="M1041,1388 V1400 Q1041,1433 1080,1433 H1200 Q1234,1433 1234,1400 V1388" fill="none" stroke="#1d1d1d" stroke-width="19"/>
<!-- cleaver -->
<path d="M1106,1171 H1200 C1206,1200 1209,1260 1208,1300 C1207,1340 1205,1360 1204,1367 H1110 C1108,1330 1106,1260 1106,1171 Z" fill="url(#cleaver)"/>
<path d="M1092,1171 H1106 L1110,1367 H1096 C1094,1300 1092,1230 1092,1171 Z" fill="#e6e6e6"/>
<circle cx="1125" cy="1355" r="6" fill="#fff" stroke="#444" stroke-width="1.5"/>
<!-- verticals -->
<rect x="1030" y="1165" width="20.4" height="225" fill="#131313"/>
<rect x="1061.6" y="1165" width="20.1" height="225" fill="#6a6a6a"/>
<rect x="1081.7" y="1165" width="5" height="225" fill="#c8c8c8"/>
<rect x="1208" y="1165" width="10" height="225" fill="#dedede"/>
<rect x="1222.6" y="1165" width="22.4" height="225" fill="#1a1a1a"/>
<!-- top bar -->
<path d="M1003,1152 V1145 Q1003,1140 1008,1140 H1040 Q1046,1140 1046,1146 V1170 H1003 Z" fill="#1a1a1a"/>
<rect x="1014" y="1143" width="12" height="11" rx="3" fill="#f2f2f2"/>
<rect x="1003" y="1153" width="43" height="18" fill="#2a2a2a"/>
<rect x="1046" y="1153.5" width="216.8" height="18" fill="url(#barG)"/>
<!-- middle bar -->
<rect x="1011" y="1267.6" width="35" height="19" fill="#2a2a2a"/>
<rect x="1046" y="1268" width="216.8" height="19.5" fill="url(#barG)"/>
<!-- bottom bar -->
<rect x="1011" y="1366" width="35" height="20" fill="#2a2a2a"/>
<rect x="1046" y="1371" width="216.8" height="20" fill="url(#barG)"/>
<!-- front loop -->
<path d="M1074,1391 V1405 Q1074,1437 1108,1437 H1166 Q1199,1437 1199,1405 V1391" fill="none" stroke="#3a3a3a" stroke-width="22"/>
</g>

<g id="basket">
<!-- back rim -->
<path d="M199,1213 L620,1210 Q628,1210 628,1218 L628,1222 L199,1228 Z" fill="#111"/>
<!-- spray bottle -->
<defs>
<linearGradient id="bottleG" x1="0" x2="1" y1="0" y2="0">
  <stop offset="0" stop-color="#d4d7dc"/><stop offset="0.3" stop-color="#e6e8ec"/><stop offset="0.7" stop-color="#e2e4e8"/><stop offset="1" stop-color="#c8cad0"/>
</linearGradient>
<radialGradient id="labelGlow" cx="0.5" cy="0.5" r="0.5">
  <stop offset="0" stop-color="#f4f8f4" stop-opacity="0.95"/><stop offset="0.7" stop-color="#e8f4e0" stop-opacity="0.7"/><stop offset="1" stop-color="#d0ecc0" stop-opacity="0"/>
</radialGradient>
</defs>
<path d="M272.6,1069 L291.6,1069 L289,1099 L276,1099 Z" fill="#e6e8ec"/>
<path d="M266,1046 Q266,1037 276,1037 L322,1037 Q335,1038 335,1052 L335,1069 L266,1069 Z" fill="#eceef1"/>
<rect x="302.4" y="1066" width="23" height="17" fill="#e2e4e8"/>
<path d="M302,1081 Q276,1095 273,1116 L273,1360 L353,1360 L353,1116 Q350,1095 326,1081 Z" fill="url(#bottleG)"/>
<rect x="273" y="1148" width="80" height="212" fill="#e6e2ec" opacity="0.6"/>
<rect x="274" y="1184.5" width="18.5" height="112" fill="#cf3e16"/>
<rect x="307" y="1182" width="26" height="28" rx="5" fill="#c8cce8"/>
<path d="M310,1196 q10,-8 20,0 q-10,6 -20,0 z" fill="#2a3a90"/>
<rect x="305" y="1212" width="30" height="12" fill="#4aaad8"/>
<rect x="303" y="1262" width="32" height="26" fill="#6a78c8" opacity="0.55"/>
<rect x="343" y="1145" width="25" height="80" fill="#e8c8c8" opacity="0.7"/>
<!-- jug -->
<path d="M363.5,1040 Q364,1036 370,1036 L396,1036 Q400,1037 400,1044 L400,1050 Q420,1044 440,1043 L520,1041 Q534,1041 538,1060 L544,1100 Q548,1110 548,1124 L549,1360 L350,1360 L349,1103 Q352,1085 361,1081 L361,1062 Z" fill="#e8dc2c"/>
<path d="M453.6,1070 Q454,1052 470,1052 L490,1052 Q500,1053 499,1065 Q498,1086 485,1090 Q462,1090 455,1080 Z" fill="#fff"/>
<path d="M400,1051 L428,1047 L405,1082 L400,1082 Z" fill="#fff"/><path d="M428,1047 L446,1046 L420,1085 L405,1082 Z" fill="#d8cc22"/>
<rect x="384" y="1045" width="4" height="35" fill="#f8f4a0"/>
<rect x="349" y="1130" width="200" height="8" fill="#ddd12a"/>
<path d="M349,1137 L548,1137 L548,1226 L349,1226 Z" fill="url(#labelG)"/>
<rect x="349" y="1137" width="46" height="89" fill="#42a82c"/>
<rect x="393" y="1137" width="9" height="89" fill="#f0f8e8"/>
<ellipse cx="476" cy="1182" rx="52" ry="48" fill="url(#labelGlow)"/>
<rect x="436" y="1160" width="84" height="36" rx="8" fill="#e04848" filter="url(#blur3)"/>
<rect x="455" y="1198" width="40" height="10" fill="#c8b860" opacity="0.6" filter="url(#blur1)"/>
<!-- jug lower -->
<rect x="350" y="1252" width="199" height="42" fill="#d6e68c"/>
<rect x="350" y="1294" width="199" height="66" fill="#e8e03c"/>
<g fill="#5aa040" opacity="0.7"><rect x="445" y="1258" width="40" height="5"/><rect x="455" y="1268" width="50" height="4"/><rect x="455" y="1276" width="50" height="4"/><rect x="455" y="1284" width="50" height="4"/></g>
<rect x="398" y="1265" width="30" height="20" fill="#e0b050" opacity="0.6"/>
<!-- sponge -->
<path d="M155,1322 L215,1322 L213,1338 L287,1332 L284,1362 L155,1362 Z" fill="#e3bf2a"/>
<path d="M165,1254 L190,1254 L218,1330 L196,1332 Z" fill="#e6c62e"/>
<path d="M188.4,1255 L257.3,1255 L286.6,1332.6 L213.3,1338.5 Z" fill="#1d661c"/>
<path d="M200,1262 L250,1262 L275,1325 L222,1330 Z" fill="#2a7e28" opacity="0.5"/>
<rect x="284" y="1296" width="18" height="64" fill="#f2ecd8"/>
<!-- basket floor -->
<path d="M124,1352 L203,1374 L585,1355 L598,1346 L598,1352 L586,1362 L205,1381 L126,1360 Z" fill="#161616"/>
<!-- handle -->
<path d="M104,1217 V1200 Q104,1194 110,1194 H156 Q162,1194 162,1200 V1217 Z" fill="#151515"/>
<rect x="127" y="1200" width="13" height="17" rx="3" fill="#fff"/>
<!-- left side rim -->
<path d="M90,1216 L199.5,1216 L199.5,1244 L90,1244 Z" fill="#5e5e5e"/>
<rect x="90" y="1216" width="109.5" height="4" fill="#3a3a3a"/>
<!-- wires -->
<g stroke="#161616" stroke-width="4.6" fill="none" stroke-linecap="round">
<line x1="113.6" y1="1244" x2="126.7" y2="1357"/>
<line x1="124.8" y1="1244" x2="136" y2="1362"/>
<line x1="136" y1="1244" x2="154.7" y2="1370"/>
<line x1="158.4" y1="1244" x2="177" y2="1376"/>
<line x1="184.5" y1="1244" x2="201" y2="1380"/>
<line x1="222" y1="1254" x2="219" y2="1378"/>
<line x1="269.5" y1="1252" x2="264.3" y2="1376"/>
<line x1="312.4" y1="1251" x2="306" y2="1374"/>
<line x1="354" y1="1250" x2="347.5" y2="1372"/>
<line x1="395.6" y1="1249" x2="390.4" y2="1370"/>
<line x1="437.2" y1="1248" x2="432" y2="1368"/>
<line x1="478.8" y1="1247" x2="473.6" y2="1366"/>
<line x1="517.8" y1="1246" x2="510" y2="1364"/>
<line x1="558" y1="1245" x2="549" y2="1362"/>
<line x1="595.8" y1="1244" x2="585.4" y2="1358"/>
<path d="M126,1356 Q130,1370 150,1372 L200,1380 Q205,1382 215,1380 L585,1358 Q598,1356 598,1345 L598,1244"/>
<path d="M136,1362 L160,1366 L560,1350 L600,1346"/>
</g>
<!-- front rim -->
<path d="M200,1227 L620,1216 Q628,1216 628,1224 L628,1236 Q628,1243 620,1243 L200,1256 Z" fill="url(#rimG)"/>
</g>

<line x1="98" y1="193" x2="217.5" y2="141" class="ol"/>
<line x1="87.5" y1="385" x2="87.5" y2="200" class="ol"/>
<polygon points="87.5,200.0 90.5,206.0 84.5,206.0" class="oh"/>
<line x1="87.5" y1="680" x2="87.5" y2="822" class="ol"/>
<polygon points="87.5,822.0 84.5,816.0 90.5,816.0" class="oh"/>
<line x1="93" y1="828" x2="244" y2="901.5" class="ol"/>
<polygon points="244.0,901.5 237.3,901.6 239.9,896.2" class="oh"/>
<polygon points="93.0,828.0 99.7,827.9 97.1,833.3" class="oh"/>
<line x1="925" y1="824" x2="804" y2="838" class="ol"/>
<polygon points="925.0,824.0 919.4,827.7 918.7,821.7" class="oh"/>
<line x1="369" y1="887.6" x2="260" y2="900" class="ol"/>
<polygon points="260.0,900.0 265.6,896.3 266.3,902.3" class="oh"/>
<line x1="693.4" y1="476" x2="693.4" y2="258" class="ol"/>
<polygon points="693.4,258.0 696.4,264.0 690.4,264.0" class="oh"/>
<polygon points="693.4,476.0 690.4,470.0 696.4,470.0" class="oh"/>
<line x1="871" y1="482" x2="871" y2="221.5" class="ol"/>
<polygon points="871.0,221.5 874.0,227.5 868.0,227.5" class="oh"/>
<polygon points="871.0,482.0 868.0,476.0 874.0,476.0" class="oh"/>
<line x1="443.5" y1="771" x2="443.5" y2="483" class="ol"/>
<polygon points="443.5,483.0 446.5,489.0 440.5,489.0" class="oh"/>
<line x1="1112.6" y1="469.5" x2="1112.6" y2="225.6" class="ol"/>
<polygon points="1112.6,225.6 1115.6,231.6 1109.6,231.6" class="oh"/>
<polygon points="1112.6,469.5 1109.6,463.5 1115.6,463.5" class="oh"/>
<line x1="1121" y1="486.7" x2="1353" y2="496" class="ol"/>
<polygon points="1353.0,496.0 1346.9,498.8 1347.1,492.8" class="oh"/>
<polygon points="1121.0,486.7 1127.1,483.9 1126.9,489.9" class="oh"/>
<line x1="1357" y1="492" x2="1389" y2="472" class="ol"/>
<polygon points="1389.0,472.0 1385.5,477.7 1382.3,472.6" class="oh"/>
<polygon points="1357.0,492.0 1360.5,486.3 1363.7,491.4" class="oh"/>
<line x1="1122" y1="786.8" x2="1170" y2="795.3" class="ol"/>
<polygon points="1170.0,795.3 1163.6,797.2 1164.6,791.3" class="oh"/>
<polygon points="1122.0,786.8 1128.4,784.9 1127.4,790.8" class="oh"/>
<line x1="1181.7" y1="798.5" x2="1405.7" y2="781.5" class="ol"/>
<polygon points="1405.7,781.5 1399.9,784.9 1399.5,779.0" class="oh"/>
<polygon points="1181.7,798.5 1187.5,795.1 1187.9,801.0" class="oh"/>
<line x1="1417" y1="775" x2="1417" y2="647" class="ol"/>
<polygon points="1417.0,647.0 1420.0,653.0 1414.0,653.0" class="oh"/>
<polygon points="1417.0,775.0 1414.0,769.0 1420.0,769.0" class="oh"/>
<line x1="113" y1="1383.5" x2="190" y2="1404.8" class="ol"/>
<polygon points="190.0,1404.8 183.4,1406.1 185.0,1400.3" class="oh"/>
<polygon points="113.0,1383.5 119.6,1382.2 118.0,1388.0" class="oh"/>
<line x1="207" y1="1409" x2="632" y2="1383.5" class="ol"/>
<polygon points="632.0,1383.5 626.2,1386.9 625.8,1380.9" class="oh"/>
<polygon points="207.0,1409.0 212.8,1405.6 213.2,1411.6" class="oh"/>
<line x1="646.3" y1="1374" x2="646.3" y2="1215.5" class="ol"/>
<polygon points="646.3,1215.5 649.3,1221.5 643.3,1221.5" class="oh"/>
<polygon points="646.3,1374.0 643.3,1368.0 649.3,1368.0" class="oh"/>
<g opacity="0.999">
<text transform="translate(53.0 195.0) rotate(-23.30)" textLength="223.2" lengthAdjust="spacingAndGlyphs" font-size="46" >28cm/11in</text>
<text transform="translate(73.5 400.0) rotate(90.00)" textLength="263.5" lengthAdjust="spacingAndGlyphs" font-size="46" >80cm/31.5in</text>
<text transform="translate(26.5 848.5) rotate(25.25)" textLength="263.7" lengthAdjust="spacingAndGlyphs" font-size="46" >30cm/11.8in</text>
<text transform="translate(320.0 884.0) rotate(-4.73)" textLength="557.9" lengthAdjust="spacingAndGlyphs" font-size="46" >Outer length 85cm/11.5in,</text>
<text transform="translate(324.0 930.0) rotate(-5.04)" textLength="524.0" lengthAdjust="spacingAndGlyphs" font-size="46" >inner width 82cm/32.3in</text>
<text transform="translate(637.0 175.7) rotate(90.00)" textLength="300.3" lengthAdjust="spacingAndGlyphs" font-size="46" style="fill:#fff;stroke:#fff;stroke-width:6;stroke-linejoin:round" opacity="0.55" filter="url(#blur3)">26.5cm/10.4in</text>
<text transform="translate(637.0 175.7) rotate(90.00)" textLength="300.3" lengthAdjust="spacingAndGlyphs" font-size="46" >26.5cm/10.4in</text>
<text transform="translate(889.0 196.0) rotate(90.00)" textLength="264.0" lengthAdjust="spacingAndGlyphs" font-size="46" >30cm/11.8in</text>
<text transform="translate(424.4 504.7) rotate(90.00)" textLength="265.3" lengthAdjust="spacingAndGlyphs" font-size="46" >49cm/19.3in</text>
<text transform="translate(1066.0 217.0) rotate(90.00)" textLength="252.5" lengthAdjust="spacingAndGlyphs" font-size="46" >12.5cm4.9in</text>
<text transform="translate(1125.3 538.0) rotate(1.28)" textLength="210.8" lengthAdjust="spacingAndGlyphs" font-size="43" >9cm/3.5in</text>
<text transform="translate(1369.0 544.7) rotate(-41.00)" textLength="172.4" lengthAdjust="spacingAndGlyphs" font-size="46" >5cm/2in</text>
<text transform="translate(1432.6 606.7) rotate(90.00)" textLength="232.3" lengthAdjust="spacingAndGlyphs" font-size="46" >13cm/5.1in</text>
<text transform="translate(1012.8 812.8) rotate(9.11)" textLength="171.8" lengthAdjust="spacingAndGlyphs" font-size="46" >5cm/2in</text>
<text transform="translate(1193.6 841.6) rotate(-5.79)" textLength="238.0" lengthAdjust="spacingAndGlyphs" font-size="46" >20cm/7.9in</text>
<text transform="translate(662.6 1187.9) rotate(90.00)" textLength="209.7" lengthAdjust="spacingAndGlyphs" font-size="46" >7.5cm/3in</text>
<text transform="translate(12.8 1409.0) rotate(14.48)" textLength="251.2" lengthAdjust="spacingAndGlyphs" font-size="46" >9.5cm/3.7in</text>
<text transform="translate(315.7 1443.0) rotate(-2.71)" textLength="239.3" lengthAdjust="spacingAndGlyphs" font-size="46" >25cm/9.8in</text>
</g>
</svg>
</body></html>
